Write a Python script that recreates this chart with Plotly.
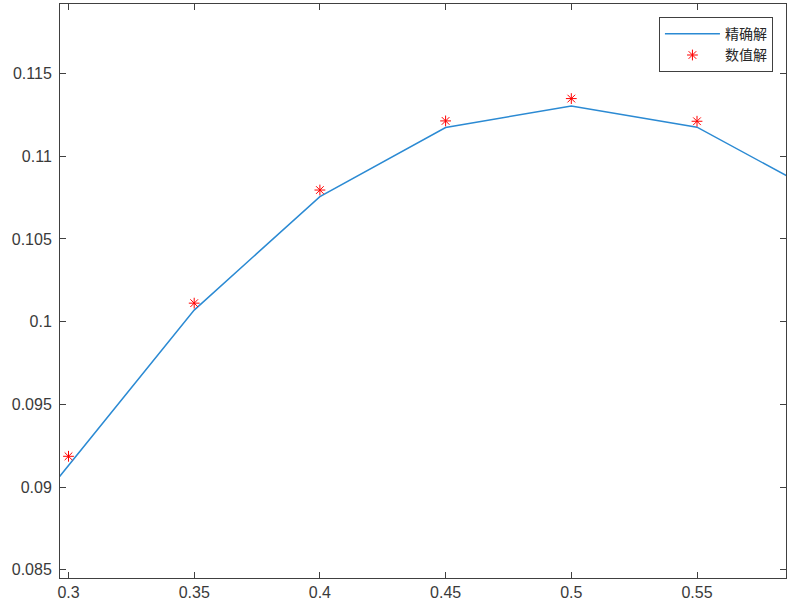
import plotly.graph_objects as go

# exact solution (line), sampled every 0.05; end points fall outside the visible range
x_exact = [0.25, 0.30, 0.35, 0.40, 0.45, 0.50, 0.55, 0.60]
y_exact = [0.0819, 0.0913, 0.1007, 0.10756, 0.11174, 0.11304, 0.11176, 0.10764]

# numerical solution (markers)
x_num = [0.30, 0.35, 0.40, 0.45, 0.50, 0.55]
y_num = [0.09186, 0.10112, 0.10796, 0.11214, 0.11349, 0.11212]

x_ticks = [0.3, 0.35, 0.4, 0.45, 0.5, 0.55]
x_ticktext = ["0.3", "0.35", "0.4", "0.45", "0.5", "0.55"]
y_ticks = [0.085, 0.09, 0.095, 0.1, 0.105, 0.11, 0.115]
y_ticktext = ["0.085", "0.09", "0.095", "0.1", "0.105", "0.11", "0.115"]

font_family = "Liberation Sans, Arial, Noto Sans CJK SC"
axis_color = "#404040"

fig = go.Figure()
fig.add_trace(go.Scatter(
    x=x_exact, y=y_exact, mode="lines", name="精确解",
    line=dict(color="#2b8ad3", width=1.5),
))
fig.add_trace(go.Scatter(
    x=x_num, y=y_num, mode="markers", name="数值解",
    marker=dict(symbol="asterisk-open", size=9, color="red",
                line=dict(color="red", width=1)),
))

axis_common = dict(
    showgrid=False, zeroline=False, showline=True, linecolor=axis_color,
    linewidth=1, mirror="ticks", ticks="inside", ticklen=6, tickwidth=1,
    tickcolor=axis_color, tickfont=dict(family=font_family, size=16, color="#3a3a3a"),
)

fig.update_layout(
    width=795, height=610,
    margin=dict(l=60, r=9, t=4, b=32),
    paper_bgcolor="white", plot_bgcolor="white",
    font=dict(family=font_family, size=16, color="#262626"),
    xaxis=dict(range=[0.29662, 0.5854], tickvals=x_ticks, ticktext=x_ticktext, **axis_common),
    yaxis=dict(range=[0.0845, 0.11921], tickvals=y_ticks, ticktext=y_ticktext,
               ticklabelstandoff=4, **axis_common),
    legend=dict(
        x=0.982, y=0.977, xanchor="right", yanchor="top",
        bgcolor="white", bordercolor=axis_color, borderwidth=1,
        font=dict(family="Noto Sans CJK SC", size=14, color="#262626"),
        itemwidth=55, tracegroupgap=0,
    ),
    showlegend=True,
)

fig.write_html("out.html", config={"displayModeBar": False},
               post_script="document.body.style.margin='0';")
